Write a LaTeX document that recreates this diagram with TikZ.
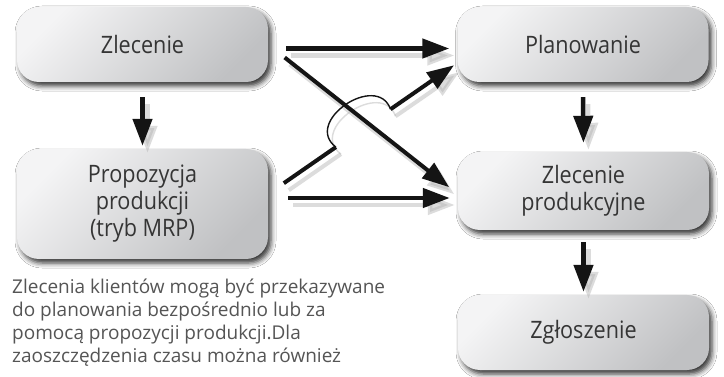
\documentclass[tikz,border=0pt]{standalone}
\usepackage{fontspec}
\setmainfont{Open Sans}
\newfontfamily\boxfont[FakeStretch=0.9]{Open Sans}
\usetikzlibrary{arrows.meta,calc,shadows.blur}
\definecolor{txt}{HTML}{353535}
\definecolor{ptxt}{HTML}{555555}
\definecolor{boxlight}{HTML}{F4F4F5}
\definecolor{boxdark}{HTML}{C0C1C3}
\newcommand\allarrows{%
  \draw[arr, shorten <=15pt, shorten >=3pt] (z1.south) -- (pr.north);
  \draw[arr, shorten <=15pt, shorten >=9pt] (pl.south) -- (zp.north);
  \draw[arr, shorten <=12pt, shorten >=3pt] (zp.south) -- (zg.north);
  \draw[arr, shorten <=18pt, shorten >=8pt] ([yshift=-4pt]z1.east) -- ([yshift=-4pt]pl.west);
  \draw[arr, shorten <=20pt, shorten >=8pt] ([yshift=6pt]pr.east) -- ([yshift=6pt]pr.east -| zp.west);
  \draw[line width=4pt, shorten <=19pt] (bs) -- (ba);
  \draw[line width=1.4pt] (ba) .. controls ($(ba)!42pt!108:(bb)$) and ($(bb)!40pt!-105:(ba)$) .. (bb);
  \draw[arr, line width=4pt, shorten >=4pt] (bb) -- (be);
  \draw[arr, line width=4pt, shorten <=21pt, shorten >=11pt] (z1.east) -- ([yshift=-3pt]zp.west);
}
\begin{document}
\begin{tikzpicture}[x=1pt,y=-1pt,
  box/.style={rounded corners=22pt, minimum width=251pt, inner sep=0pt,
    top color=boxlight, bottom color=boxdark, shading angle=45,
    blur shadow={shadow xshift=3pt, shadow yshift=-4pt, shadow blur radius=5pt, shadow opacity=80},
    text=txt, font=\boxfont\fontsize{24}{27}\selectfont, align=center},
  arr/.style={line width=4.5pt, -{Triangle[length=27pt,width=19pt]}},
  para/.style={anchor=base west, inner sep=0pt, text=ptxt, font=\fontsize{19}{22}\selectfont}]
\useasboundingbox (0,0) rectangle (724,377);
\fill[white] (0,0) rectangle (724,377);
\node[box, minimum height=75pt] (z1) at (142.5,44.5) {Zlecenie};
\node[box, minimum height=75pt] (pl) at (583,44.5) {Planowanie};
\node[box, minimum height=110pt] (pr) at (142.5,204) {Propozycja\\produkcji\\(tryb MRP)};
\node[box, minimum height=78pt] (zp) at (583.5,191) {Zlecenie\\produkcyjne};
\node[box, minimum height=75pt] (zg) at (583.5,332.5) {Zgłoszenie};
\coordinate (bs) at ([yshift=10pt]pr.east);
\coordinate (be) at ([yshift=-18.5pt]pl.west);
\coordinate (ba) at ($(bs)!0.358!(be)$);
\coordinate (bb) at ($(bs)!0.647!(be)$);
\begin{scope}[transform canvas={shift={(5pt,-7pt)}}, black!30, opacity=.45]
  \allarrows
\end{scope}
\begin{scope}[black!92]
  \allarrows
\end{scope}
\node[para] (t1) at (12,294) {Zlecenia klientów mogą być przekazywane};
\node[para] (t2) at (12,316.7) {do planowania bezpośrednio lub za};
\node[para] (t3) at (12,339.3) {pomocą propozycji produkcji.Dla};
\node[para] (t4) at (12,362) {zaoszczędzenia czasu można również};
\end{tikzpicture}
\end{document}
